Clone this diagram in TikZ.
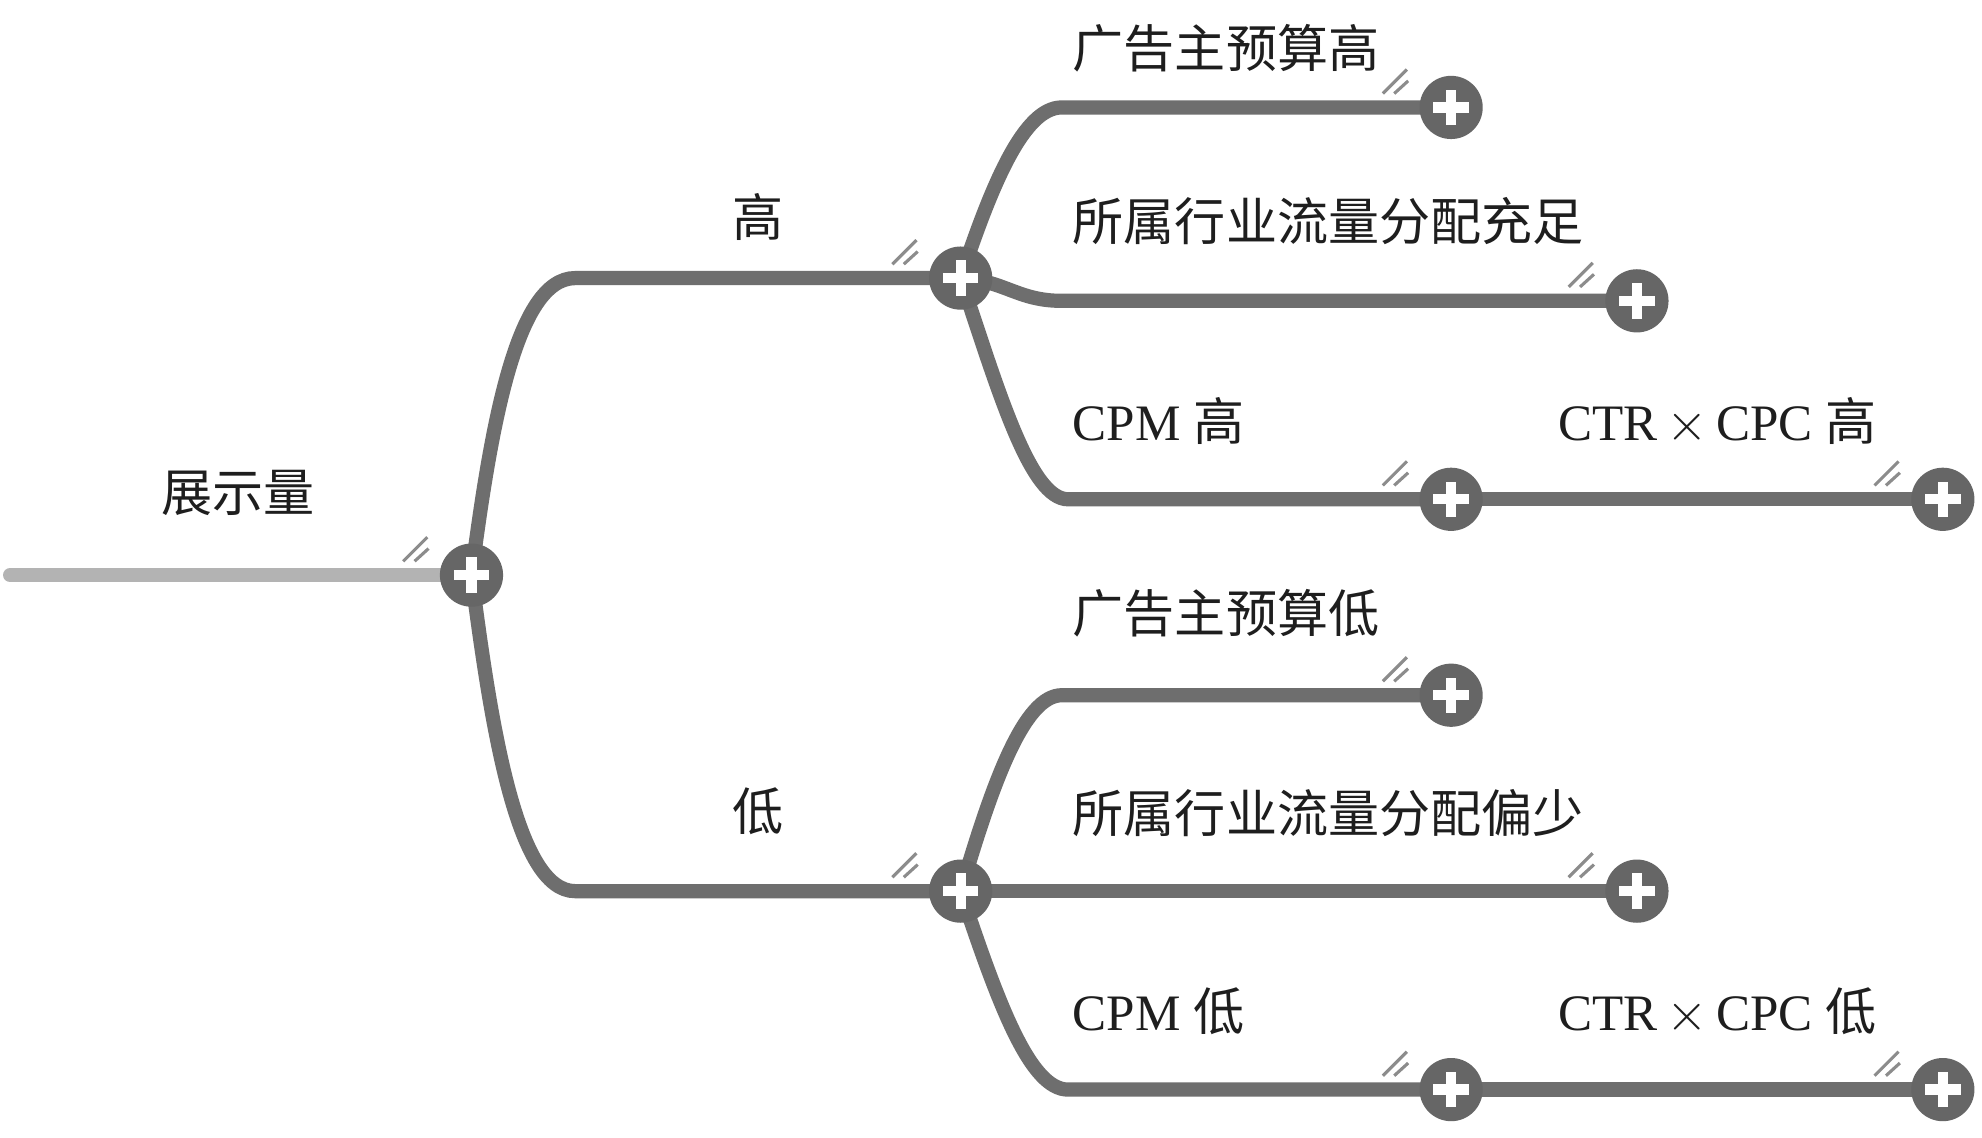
\documentclass[tikz,border=0pt]{standalone}
\usepackage{fontspec}
\setmainfont{Liberation Serif}
\newfontfamily\cjk{Noto Sans CJK SC}
\usetikzlibrary{backgrounds}
\definecolor{linegray}{HTML}{6E6E6E}
\definecolor{hubgray}{HTML}{666666}
\definecolor{rootgray}{HTML}{B3B3B3}
\definecolor{foldgray}{HTML}{8C8C8C}
\definecolor{labeltext}{HTML}{1E1E1E}
\tikzstyle{hub} = [circle, fill=hubgray, minimum size=0.5cm, inner sep=0pt,
  path picture={\draw[white, line width=2.3pt]
    ([xshift=-0.14cm]path picture bounding box.center) -- ([xshift=0.14cm]path picture bounding box.center)
    ([yshift=-0.14cm]path picture bounding box.center) -- ([yshift=0.14cm]path picture bounding box.center);}]
\tikzstyle{topic} = [inner sep=0pt, text=labeltext, font=\fontsize{11.5}{13}\selectfont, anchor=west]
\tikzstyle{branch} = [draw=linegray, line width=3.2pt, line cap=round]
\tikzstyle{trunk} = [draw=rootgray, line width=3.2pt, line cap=round]
\tikzstyle{fold} = [draw=foldgray, line width=0.7pt]
\newcommand{\foldmark}[1]{\draw[fold, shift={(#1.center)}] (-0.54,0.11) -- (-0.35,0.30) (-0.45,0.11) -- (-0.34,0.21);}
\newcommand{\ctrcpc}{CTR\hspace{0.17em}$\times$\hspace{0.17em}CPC}

\begin{document}
\begin{tikzpicture}
	\useasboundingbox (0,0) rectangle (15.68,9.00);

	% place hubs
	\coordinate (start) at (0.08,4.45);
	\node [hub] (R)  at (3.73,4.45) {};
	\node [hub] (H)  at (7.60,6.80) {};
	\node [hub] (L)  at (7.60,1.95) {};
	\node [hub] (A1) at (11.48,8.15) {};
	\node [hub] (A2) at (12.95,6.62) {};
	\node [hub] (A3) at (11.48,5.05) {};
	\node [hub] (A4) at (15.37,5.05) {};
	\node [hub] (B1) at (11.48,3.50) {};
	\node [hub] (B2) at (12.95,1.95) {};
	\node [hub] (B3) at (11.48,0.38) {};
	\node [hub] (B4) at (15.37,0.38) {};

	% place labels
	\node [topic, anchor=center] (tShow) at (1.88,5.10) {\cjk 展示量};
	\node [topic, anchor=center] (tHigh) at (6.00,7.28) {\cjk 高};
	\node [topic, anchor=center] (tLow)  at (6.00,2.58) {\cjk 低};
	\node [topic] (tA1) at (8.48,8.62) {\cjk 广告主预算高};
	\node [topic] (tA2) at (8.48,7.25) {\cjk 所属行业流量分配充足};
	\node [topic] (tA3) at (8.48,5.67) {CPM {\cjk 高}};
	\node [topic] (tA4) at (12.32,5.67) {\ctrcpc{} {\cjk 高}};
	\node [topic] (tB1) at (8.48,4.15) {\cjk 广告主预算低};
	\node [topic] (tB2) at (8.48,2.57) {\cjk 所属行业流量分配偏少};
	\node [topic] (tB3) at (8.48,1.00) {CPM {\cjk 低}};
	\node [topic] (tB4) at (12.32,1.00) {\ctrcpc{} {\cjk 低}};

	% fold marks
	\foreach \n in {R,H,L,A1,A2,A3,A4,B1,B2,B3,B4} {\foldmark{\n}}

	% draw edges
	\begin{scope}[on background layer]
		\fill [white] (0,0) rectangle (15.68,9.00);
		\path [trunk] (start) -- (R.center);
		\path [branch] (R.center) .. controls (3.88,5.60) and (4.08,6.80) .. (4.55,6.80) -- (H.center);
		\path [branch] (R.center) .. controls (3.88,3.30) and (4.08,1.95) .. (4.55,1.95) -- (L.center);
		\path [branch] (H.center) .. controls (7.85,7.55) and (8.10,8.15) .. (8.40,8.15) -- (A1.center);
		\path [branch] (H.center) .. controls (7.95,6.78) and (8.05,6.62) .. (8.40,6.62) -- (A2.center);
		\path [branch] (H.center) .. controls (7.90,5.90) and (8.15,5.05) .. (8.45,5.05) -- (A3.center);
		\path [branch] (A3.center) -- (A4.center);
		\path [branch] (L.center) .. controls (7.85,2.80) and (8.10,3.50) .. (8.40,3.50) -- (B1.center);
		\path [branch] (L.center) -- (B2.center);
		\path [branch] (L.center) .. controls (7.90,1.05) and (8.15,0.38) .. (8.45,0.38) -- (B3.center);
		\path [branch] (B3.center) -- (B4.center);
	\end{scope}
\end{tikzpicture}
\end{document}
